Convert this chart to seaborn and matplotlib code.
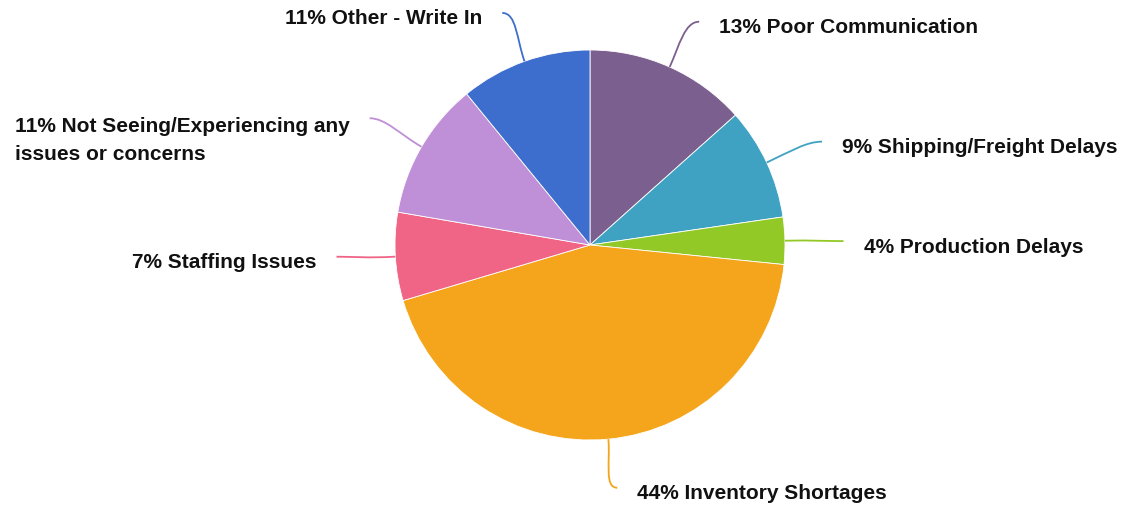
import textwrap

import matplotlib
matplotlib.use("Agg")
import matplotlib.pyplot as plt
from matplotlib.path import Path
from matplotlib.patches import PathPatch
import numpy as np
import seaborn as sns

# Survey: biggest supply-chain concern (share of responses, %)
categories = [
    "Poor Communication",
    "Shipping/Freight Delays",
    "Production Delays",
    "Inventory Shortages",
    "Staffing Issues",
    "Not Seeing/Experiencing any issues or concerns",
    "Other - Write In",
]
shares = [13.4, 9.3, 3.9, 43.8, 7.3, 11.4, 10.9]
colors = ["#7b5f8e", "#3fa2c2", "#93c926", "#f4a51b", "#f06486", "#bf8fd8", "#3e6ecd"]

# Label layout: connector end point (in pie radii from the centre) and side
label_ends = [
    (0.56, 1.145), (1.19, 0.53), (1.30, 0.02), (0.14, -1.245),
    (-1.30, -0.06), (-1.13, 0.65), (-0.45, 1.19),
]
label_side = ["right", "right", "right", "right", "left", "left", "left"]

sns.set_theme(style="white")
plt.rcParams["font.family"] = ["Liberation Sans", "DejaVu Sans"]

W, H, DPI = 1125, 508, 100
R_PX = 195.0
CX, CY = 590.0, 245.0

fig = plt.figure(figsize=(W / DPI, H / DPI), dpi=DPI)
ax = fig.add_axes([0, 0, 1, 1])

wedges, _ = ax.pie(
    shares,
    colors=colors,
    startangle=90,
    counterclock=False,
    radius=1.0,
    wedgeprops=dict(edgecolor="white", linewidth=0.6),
)

ax.set_aspect("auto")
ax.set_xlim(-CX / R_PX, (W - CX) / R_PX)
ax.set_ylim(-(H - CY) / R_PX, CY / R_PX)
ax.axis("off")

px = 1.0 / R_PX  # one pixel in data units
total = float(sum(shares))
for w, name, val, col, end, side in zip(wedges, categories, shares, colors, label_ends, label_side):
    mid = np.deg2rad((w.theta1 + w.theta2) / 2.0)
    d = np.array([np.cos(mid), np.sin(mid)])
    start = d * 1.0
    end = np.array(end)
    hdir = 1.0 if side == "right" else -1.0
    dist = np.hypot(*(end - start))
    k = 0.45 * dist
    c1 = start + d * k
    c2 = end - np.array([hdir, 0.0]) * k * 0.6
    path = Path([start, c1, c2, end], [Path.MOVETO, Path.CURVE4, Path.CURVE4, Path.CURVE4])
    ax.add_patch(PathPatch(path, facecolor="none", edgecolor=col, linewidth=1.3, zorder=1))

    pct = int(round(100.0 * val / total))
    text = textwrap.fill(f"{pct}% {name}", 32)
    tx = end[0] + hdir * 20 * px
    ha = "left" if side == "right" else "right"
    if "\n" in text:
        ax.text(tx, end[1] + 1 * px, text, ha=ha, va="top", multialignment="left",
                fontsize=15, fontweight="bold", color="#111111", linespacing=1.55)
    else:
        ax.text(tx, end[1] - 6 * px, text, ha=ha, va="center",
                fontsize=15, fontweight="bold", color="#111111")

fig.savefig("out.png", dpi=DPI, facecolor="white")
